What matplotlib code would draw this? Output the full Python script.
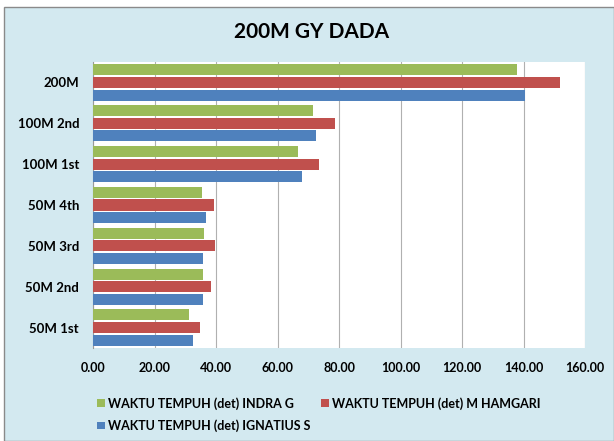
import matplotlib.pyplot as plt
import matplotlib.patches as mpatches
import numpy as np

plt.rcParams['font.family'] = ['Lato', 'DejaVu Sans']

# data (bottom -> top as drawn)
categories = ['50M 1st', '50M 2nd', '50M 3rd', '50M 4th', '100M 1st', '100M 2nd', '200M']
indra = [31.2, 35.8, 36.0, 35.5, 66.8, 71.4, 138.0]
hamgari = [34.9, 38.5, 39.6, 39.3, 73.4, 78.6, 151.9]
ignatius = [32.4, 35.8, 35.8, 36.9, 68.1, 72.5, 140.5]
series_names = ['WAKTU TEMPUH (det) INDRA G', 'WAKTU TEMPUH (det) M HAMGARI',
                'WAKTU TEMPUH (det) IGNATIUS S']
x_ticks = [0, 20, 40, 60, 80, 100, 120, 140, 160]

fig = plt.figure(figsize=(6.14, 4.41), dpi=100)
fig.patch.set_facecolor('white')

# chart area background (light blue) with thin grey border
bg = mpatches.Rectangle((4 / 614, 0), 1 - 4 / 614, 1 - 7 / 441, transform=fig.transFigure,
                        facecolor='#d3e9f0', edgecolor='#8a8a8a', linewidth=1.0, zorder=-5)
fig.patches.append(bg)

ax = fig.add_axes([93 / 614, 1 - 348 / 441, (585 - 93) / 614, (348 - 62) / 441])
ax.set_facecolor('white')

y = np.arange(len(categories))
h = 0.27
off = 0.31
b1 = ax.barh(y + off, indra, height=h, color='#9bbb59', zorder=3)
b2 = ax.barh(y, hamgari, height=h, color='#c0504d', zorder=3)
b3 = ax.barh(y - off, ignatius, height=h, color='#4f81bd', zorder=3)

ax.set_xlim(0, 160)
ax.set_ylim(-0.5, len(categories) - 0.5)
ax.set_xticks(x_ticks)
ax.set_xticklabels(['%.2f' % v for v in x_ticks], fontsize=9, fontweight='bold')
ax.set_yticks(y)
ax.set_yticklabels(categories, fontsize=9.5, fontweight='bold')
ax.tick_params(axis='both', length=0)
ax.tick_params(axis='x', pad=10)
ax.tick_params(axis='y', pad=10)
ax.grid(axis='x', color='#b0b0b0', linewidth=0.8, zorder=0)
for s in ['top', 'right', 'bottom']:
    ax.spines[s].set_visible(False)
ax.spines['left'].set_color('#9a9a9a')

fig.text(0.508, 1 - 32 / 441, '200M GY DADA', ha='center', va='center',
         fontsize=15, fontweight='bold')

leg = fig.legend([b1, b3, b2], [series_names[0], series_names[2], series_names[1]],
                 ncol=2, loc='upper left', bbox_to_anchor=(86 / 614, 1 - 386 / 441),
                 frameon=False, handlelength=0.6, handleheight=0.6, handletextpad=0.3,
                 columnspacing=0.8, labelspacing=0.75,
                 prop={'size': 9, 'weight': 'bold'})

fig.savefig('out.png', dpi=100)
